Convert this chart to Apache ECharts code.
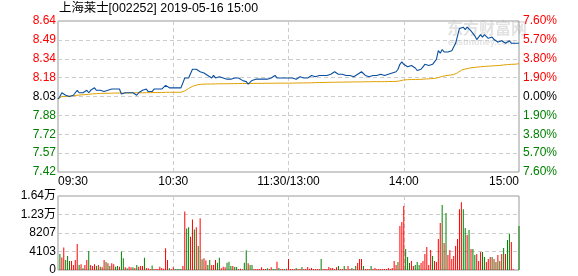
<!DOCTYPE html>
<html><head><meta charset="utf-8">
<script src="https://cdn.jsdelivr.net/npm/echarts@6/dist/echarts.min.js"></script>
<style>html,body{margin:0;padding:0;background:#fff}#c{width:578px;height:276px}</style>
</head><body><div id="c"></div>
<script>
const titleText = '上海莱士[002252] 2019-05-16 15:00';
const priceTickLabels = ['7.42','7.57','7.72','7.88','8.03','8.18','8.34','8.49','8.64'];
const pctTickLabels = ['7.60%','5.70%','3.80%','1.90%','0.00%','1.90%','3.80%','5.70%','7.60%'];
const volTickLabels = ['0','4103','8207','1.23万','1.64万'];
const timeTickIdx = [0,60,120,180,240];
const timeTickLabels = ['09:30','10:30','11:30/13:00','14:00','15:00'];

const price = [
8.01,8.03,8.06,8.05,8.04,8.03,8.03,8.03,8.04,8.06,
8.08,8.06,8.06,8.06,8.07,8.08,8.06,8.08,8.09,8.10,
8.08,8.08,8.08,8.07,8.07,8.08,8.08,8.09,8.09,8.10,
8.09,8.09,8.09,8.05,8.06,8.06,8.06,8.06,8.06,8.06,
8.06,8.04,8.06,8.07,8.08,8.08,8.09,8.07,8.07,8.07,
8.09,8.09,8.09,8.09,8.09,8.09,8.12,8.11,8.10,8.10,
8.10,8.10,8.10,8.10,8.10,8.11,8.18,8.17,8.18,8.18,
8.25,8.24,8.25,8.24,8.23,8.22,8.22,8.22,8.20,8.19,
8.18,8.20,8.18,8.18,8.19,8.18,8.18,8.17,8.17,8.17,
8.17,8.17,8.18,8.18,8.18,8.17,8.16,8.16,8.15,8.13,
8.14,8.16,8.17,8.17,8.17,8.17,8.16,8.17,8.17,8.17,
8.18,8.18,8.19,8.20,8.18,8.17,8.18,8.18,8.18,8.18,
8.18,
8.18,8.18,8.18,8.17,8.17,8.19,8.18,8.18,8.18,8.18,
8.18,8.20,8.20,8.19,8.20,8.20,8.19,8.20,8.20,8.20,
8.21,8.21,8.22,8.23,8.23,8.21,8.21,8.21,8.21,8.20,
8.19,8.20,8.20,8.19,8.19,8.21,8.22,8.23,8.22,8.20,
8.20,8.19,8.19,8.20,8.20,8.20,8.21,8.21,8.20,8.20,
8.20,8.21,8.21,8.22,8.23,8.23,8.25,8.29,8.31,8.29,
8.28,8.27,8.26,8.28,8.28,8.26,8.24,8.23,8.25,8.27,
8.29,8.29,8.28,8.29,8.29,8.30,8.33,8.40,8.38,8.41,
8.39,8.38,8.39,8.40,8.40,8.40,8.46,8.52,8.58,8.57,
8.59,8.57,8.59,8.60,8.56,8.55,8.52,8.49,8.51,8.53,
8.51,8.53,8.52,8.50,8.51,8.51,8.49,8.48,8.47,8.47,
8.48,8.47,8.46,8.47,8.48,8.46,8.46,8.46,8.46,8.46
];

const avgPrice = [
8.010,8.020,8.030,8.030,8.030,8.032,8.033,8.035,8.036,8.038,
8.040,8.042,8.043,8.044,8.045,8.047,8.048,8.050,8.051,8.052,
8.053,8.054,8.055,8.055,8.056,8.056,8.056,8.057,8.057,8.057,
8.058,8.058,8.058,8.058,8.058,8.058,8.059,8.059,8.059,8.059,
8.060,8.060,8.060,8.060,8.060,8.060,8.061,8.061,8.061,8.061,
8.062,8.062,8.062,8.062,8.062,8.062,8.064,8.064,8.064,8.064,
8.064,8.064,8.064,8.064,8.064,8.065,8.075,8.085,8.095,8.105,
8.112,8.118,8.122,8.126,8.128,8.129,8.130,8.130,8.131,8.131,
8.131,8.132,8.132,8.132,8.133,8.133,8.133,8.133,8.133,8.134,
8.134,8.134,8.134,8.134,8.135,8.135,8.135,8.135,8.135,8.135,
8.135,8.136,8.136,8.136,8.136,8.136,8.136,8.136,8.137,8.137,
8.137,8.137,8.137,8.137,8.138,8.138,8.138,8.138,8.138,8.138,
8.138,
8.138,8.138,8.138,8.139,8.139,8.139,8.139,8.140,8.140,8.140,
8.140,8.141,8.141,8.142,8.142,8.143,8.143,8.143,8.144,8.144,
8.144,8.145,8.145,8.145,8.146,8.146,8.146,8.146,8.147,8.147,
8.147,8.147,8.147,8.148,8.148,8.148,8.148,8.148,8.149,8.149,
8.149,8.149,8.149,8.150,8.150,8.150,8.150,8.150,8.150,8.150,
8.151,8.151,8.151,8.151,8.151,8.152,8.152,8.156,8.160,8.164,
8.165,8.166,8.166,8.167,8.167,8.168,8.168,8.168,8.169,8.170,
8.171,8.172,8.173,8.174,8.175,8.176,8.179,8.183,8.187,8.192,
8.196,8.199,8.201,8.203,8.205,8.207,8.213,8.222,8.232,8.242,
8.248,8.252,8.256,8.259,8.262,8.264,8.266,8.267,8.269,8.270,
8.272,8.273,8.274,8.275,8.276,8.277,8.278,8.279,8.280,8.281,
8.284,8.285,8.287,8.288,8.289,8.290,8.291,8.291,8.291,8.295
];

const volume = [
0,
3550,2800,5000,2200,3100,2000,2000,1100,2200,5760,
1100,1300,370,1100,2200,4200,1100,900,1300,900,
1100,740,600,2200,1800,1500,900,1500,1300,740,
900,740,4100,2600,600,370,740,600,600,450,
1100,740,900,900,2700,450,370,220,1000,220,
220,220,740,450,300,4800,2200,370,150,600,
220,220,220,220,900,13000,9200,9460,7400,11200,
9000,9460,5300,11500,2400,2600,2100,1100,2200,1100,
1100,2200,1600,2700,370,740,600,1600,1850,900,
900,670,670,220,300,150,1600,4400,1500,1100,
1100,220,220,220,220,600,220,220,370,220,
600,220,220,1850,450,220,220,220,300,2440,
220,220,220,450,220,220,670,220,220,670,
300,450,220,220,220,220,2440,220,220,220,
670,450,450,220,600,900,220,220,900,220,
900,220,450,220,900,1550,2440,2440,900,220,
220,220,900,220,450,220,220,220,220,220,
220,450,220,450,2000,1100,1800,9750,10640,14190,
4650,2880,1550,2000,900,1100,1800,1100,1550,2000,
3550,5100,1100,4430,3100,2000,1800,6870,10400,14400,
6000,12640,3330,4430,2440,3100,5300,6870,13500,15000,
13500,9300,7760,8870,4650,4650,3330,3550,2000,4000,
4000,2880,1800,2440,2880,2880,2440,1800,3330,2000,
3550,4880,3550,6650,7980,6200,220,0,0,9750
];

// 1 = up (red), 0 = down (green)
const volUp = [
1,
0,1,1,0,0,0,1,1,1,1,
0,1,0,1,1,0,1,1,1,0,
1,0,1,1,0,1,0,1,1,0,
0,1,0,0,1,0,1,1,0,1,
0,1,1,1,0,1,1,1,0,1,
1,1,1,1,1,1,1,0,1,1,
0,0,0,0,1,1,0,0,1,1,
0,1,0,1,0,1,1,0,0,1,
1,1,0,0,1,1,1,0,0,0,
1,0,0,1,1,1,0,0,1,0,
0,1,1,1,1,1,1,1,0,1,
1,0,0,1,0,1,1,0,1,1,
1,1,1,0,1,1,0,1,1,1,
1,1,1,1,1,1,0,1,1,1,
1,1,1,1,1,0,1,1,0,1,
1,1,0,1,0,1,1,1,0,1,
1,1,0,1,1,1,1,1,1,1,
1,1,1,1,1,1,0,1,1,1,
0,0,0,1,1,0,0,0,1,1,
1,1,1,1,0,1,1,1,1,0,
1,0,1,1,1,1,1,1,1,1,
0,0,1,0,1,0,0,1,1,1,
0,0,1,1,1,0,1,0,1,0,
1,0,1,0,0,1,1,1,1,0
];

const minutes = price.map((_, i) => String(i));
const RED = '#ff0000', GREEN = '#008000', DARK = '#000000';
const FONT = '"Liberation Sans", Arial, "Noto Sans CJK SC", sans-serif';

function tickIndex(v, lo, step) { return Math.round((v - lo) / step); }
function sideColor(k) { return k > 4 ? RED : (k < 4 ? GREEN : DARK); }

const dashed = { color: '#cccccc', type: [4, 3], width: 1 };
const xCommon = {
  type: 'category', data: minutes, boundaryGap: false,
  axisLine: { show: false }, axisTick: { show: false },
  splitLine: { show: true, interval: (i) => i === 60 || i === 120 || i === 180, lineStyle: dashed }
};

const chart = echarts.init(document.getElementById('c'), null, { renderer: 'canvas' });
chart.setOption({
  animation: false,
  textStyle: { fontFamily: FONT },
  title: { text: titleText, left: 59, top: 2, padding: 0,
    textStyle: { fontSize: 12.4, fontWeight: 'normal', color: '#000', fontFamily: FONT } },
  graphic: [
    { type: 'text', left: 447, top: 22, z: -1, silent: true,
      style: { text: '东方财富网', fontSize: 16, fontWeight: 'bold', fill: '#e2e2e2', fontFamily: FONT } },
    { type: 'text', left: 448, top: 38, z: -1, silent: true,
      style: { text: 'eastmoney.com', fontSize: 9, fontWeight: 'bold', fill: '#e2e2e2', fontFamily: FONT } }
  ],
  grid: [
    { left: 58, right: 59, top: 21, height: 151, show: true, borderColor: '#999', borderWidth: 1, backgroundColor: 'transparent' },
    { left: 58, right: 59, top: 196, height: 74, show: true, borderColor: '#999', borderWidth: 1, backgroundColor: 'transparent' }
  ],
  xAxis: [
    Object.assign({}, xCommon, { gridIndex: 0,
      axisLabel: { interval: (i) => timeTickIdx.indexOf(i) >= 0,
        formatter: (v) => { const k = timeTickIdx.indexOf(Number(v)); return k >= 0 ? timeTickLabels[k] : ''; },
        alignMinLabel: 'left', alignMaxLabel: 'right', showMinLabel: true, showMaxLabel: true,
        color: '#000', fontSize: 12, margin: 4, fontFamily: FONT } }),
    Object.assign({}, xCommon, { gridIndex: 1, axisLabel: { show: false } })
  ],
  yAxis: [
    { type: 'value', gridIndex: 0, position: 'left', min: -7.6, max: 7.6, interval: 1.9,
      axisLine: { show: false }, axisTick: { show: false },
      splitLine: { show: true, lineStyle: dashed },
      axisLabel: { fontSize: 12, margin: 2, fontFamily: FONT,
        formatter: (v) => priceTickLabels[tickIndex(v, -7.6, 1.9)],
        color: (v) => sideColor(tickIndex(v, -7.6, 1.9)) } },
    { type: 'value', gridIndex: 0, position: 'right', min: -7.6, max: 7.6, interval: 1.9,
      axisLine: { show: false }, axisTick: { show: false }, splitLine: { show: false },
      axisLabel: { fontSize: 12, margin: 4, fontFamily: FONT,
        formatter: (v) => pctTickLabels[8 - tickIndex(v, -7.6, 1.9)],
        color: (v) => sideColor(tickIndex(v, -7.6, 1.9)) } },
    { type: 'value', gridIndex: 0, min: 7.42, max: 8.64, show: false, splitLine: { show: false } },
    { type: 'value', gridIndex: 1, position: 'left', min: 0, max: 16412, interval: 4103,
      axisLine: { show: false }, axisTick: { show: false },
      splitLine: { show: true, lineStyle: dashed },
      axisLabel: { fontSize: 12, margin: 2, color: '#000', fontFamily: FONT,
        formatter: (v) => volTickLabels[tickIndex(v, 0, 4103)] } }
  ],
  series: [
    { type: 'line', name: 'avg', xAxisIndex: 0, yAxisIndex: 2, data: avgPrice,
      showSymbol: false, symbol: 'none', lineStyle: { color: '#e0a000', width: 1 }, z: 3 },
    { type: 'line', name: 'price', xAxisIndex: 0, yAxisIndex: 2, data: price,
      showSymbol: false, symbol: 'none', lineStyle: { color: '#0a4f9e', width: 1.1 }, z: 4 },
    { type: 'bar', name: 'volume', xAxisIndex: 1, yAxisIndex: 3, barWidth: 1, barGap: '0%',
      data: volume.map((v, i) => ({ value: v, itemStyle: { color: volUp[i] ? RED : GREEN } })) }
  ]
});
</script>
</body></html>
